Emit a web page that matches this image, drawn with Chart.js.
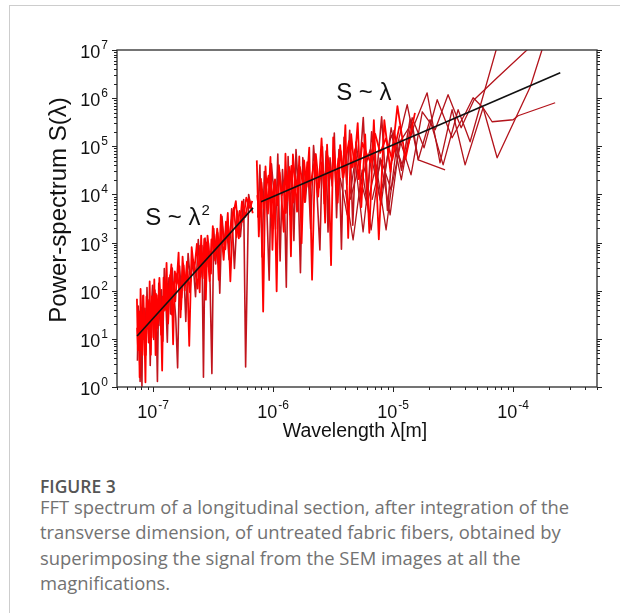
<!DOCTYPE html>
<html>
<head>
<meta charset="utf-8">
<title>FFT spectrum</title>
<script src="https://cdn.jsdelivr.net/npm/chart.js@4.4.1/dist/chart.umd.min.js"></script>
<style>
  html, body { margin: 0; padding: 0; background: #fff; }
  body { width: 620px; height: 613px; position: relative; overflow: hidden; }
  .card { position: absolute; left: 9px; top: 5px; width: 700px; height: 700px;
          border-left: 1px solid #cdcdcd; border-top: 1px solid #cdcdcd; }
  #spectrum { position: absolute; left: 0; top: 0; }
  .fig { position: absolute; left: 40px; top: 474px; font: 600 17.5px "Open Sans", sans-serif; color: #555; }
  .txt { position: absolute; left: 40px; top: 494px; font: 18.4px/25.4px "Open Sans", sans-serif;
         color: #727272; white-space: nowrap; }
</style>
</head>
<body>
<div class="card"></div>
<canvas id="spectrum" width="620" height="460"></canvas>
<div class="fig">FIGURE 3</div>
<div class="txt">FFT spectrum of a longitudinal section, after integration of the<br>transverse dimension, of untreated fabric fibers, obtained by<br>superimposing the signal from the SEM images at all the<br>magnifications.</div>
<script>
// wavelengths in micrometres, power in arbitrary units

// highest magnification, three overlapping scans
const lamA1 = [0.0733, 0.0746, 0.0759, 0.0772, 0.0786, 0.0800, 0.0815, 0.0830, 0.0846, 0.0863,
  0.0880, 0.0898, 0.0917, 0.0936, 0.0957, 0.0978, 0.1000, 0.1023, 0.1048, 0.1073,
  0.1100, 0.1128, 0.1158, 0.1189, 0.1222, 0.1257, 0.1294, 0.1333, 0.1375, 0.1419,
  0.1467, 0.1517, 0.1571, 0.1630, 0.1692, 0.1760, 0.1833, 0.1913, 0.2000, 0.2095,
  0.2200, 0.2316, 0.2444, 0.2514, 0.2588, 0.2667, 0.2750, 0.2839, 0.2933, 0.3034,
  0.3143, 0.3259, 0.3385, 0.3520, 0.3667, 0.3826, 0.4000, 0.4190, 0.4400, 0.4630,
  0.4890, 0.5180, 0.5500, 0.5870, 0.6290, 0.6770];
const powA1 = [68, 5.9, 37, 1.6, 109, 22, 4.6, 80, 15, 1.25,
  75, 40, 8.4, 156, 4.7, 76, 27, 171, 4.6, 81,
  21, 185, 48, 2.2, 186, 40, 380, 21, 129, 350,
  7.7, 252, 140, 620, 28, 510, 100, 400, 7.2, 800,
  256, 940, 93, 1400, 181, 1185, 65, 1400, 620, 226,
  2200, 616, 1500, 169, 3780, 1590, 726, 4110, 157, 3600,
  7280, 1220, 7175, 3420, 8260, 4080];

const lamA2 = [0.0740, 0.0752, 0.0765, 0.0779, 0.0793, 0.0807, 0.0822, 0.0838, 0.0854, 0.0871,
  0.0889, 0.0907, 0.0926, 0.0946, 0.0967, 0.0989, 0.1011, 0.1035, 0.1060, 0.1086,
  0.1114, 0.1143, 0.1173, 0.1205, 0.1239, 0.1275, 0.1313, 0.1354, 0.1397, 0.1443,
  0.1492, 0.1544, 0.1600, 0.1661, 0.1726, 0.1796, 0.1872, 0.1956, 0.2047, 0.2146,
  0.2256, 0.2378, 0.2479, 0.2550, 0.2627, 0.2708, 0.2794, 0.2886, 0.2983, 0.3088,
  0.3200, 0.3321, 0.3452, 0.3593, 0.3746, 0.3912, 0.4093, 0.4293, 0.4513, 0.4759,
  0.5033, 0.5339, 0.5683, 0.5900, 0.6250, 0.6600];
const powA2 = [3.5, 48, 11.4, 1.3, 42, 1.0, 78, 9.8, 43, 4.6,
  116, 16, 65, 2.8, 49, 130, 9.7, 103, 31, 1.3,
  143, 19, 104, 8.9, 290, 68, 8.5, 185, 33, 294,
  80, 27, 2.5, 324, 72, 338, 23, 595, 154, 438,
  75, 1156, 193, 870, 1.6, 1236, 315, 984, 135, 1.9,
  1956, 361, 1600, 89, 3500, 904, 2570, 440, 5040, 290,
  4500, 1320, 7800, 2.6, 10000, 4700];

const lamA3 = [0.0736, 0.0749, 0.0762, 0.0775, 0.0789, 0.0803, 0.0818, 0.0834, 0.0850, 0.0867,
  0.0884, 0.0902, 0.0921, 0.0941, 0.0962, 0.0983, 0.1005, 0.1029, 0.1054, 0.1080,
  0.1107, 0.1135, 0.1165, 0.1197, 0.1230, 0.1266, 0.1303, 0.1343, 0.1386, 0.1431,
  0.1479, 0.1530, 0.1585, 0.1645, 0.1709, 0.1778, 0.1852, 0.1934, 0.2023, 0.2120,
  0.2228, 0.2347, 0.2462, 0.2532, 0.2607, 0.2687, 0.2772, 0.2862, 0.2958, 0.3061,
  0.3171, 0.3290, 0.3418, 0.3556, 0.3706, 0.3869, 0.4046, 0.4241, 0.4456, 0.4694,
  0.4960, 0.5258, 0.5595, 0.5980, 0.6420, 0.6700];
const powA3 = [17, 6, 31, 10.5, 41, 5.8, 28, 11.3, 38, 5.4,
  23, 60, 12.8, 36, 22, 64, 10.8, 41, 87, 16.6,
  35, 76, 12.2, 75, 38, 133, 33, 78, 211, 32,
  149, 60, 230, 117, 41, 367, 132, 249, 93, 466,
  288, 111, 859, 275, 595, 203, 1012, 481, 158, 1158,
  828, 422, 1950, 781, 1649, 436, 2728, 987, 2430, 5236,
  1296, 4554, 2700, 8616, 5232, 7350];

// medium magnification
const lamB1 = [0.731, 0.760, 0.792, 0.826, 0.864, 0.905, 0.950, 0.987, 1.027, 1.070,
  1.118, 1.169, 1.226, 1.267, 1.310, 1.357, 1.407, 1.462, 1.520, 1.583,
  1.652, 1.727, 1.810, 1.900, 2.000, 2.111, 2.235, 2.375, 2.533, 2.621,
  2.714, 2.815, 2.923, 3.040, 3.167, 3.304, 3.455, 3.619, 3.800, 4.000,
  4.222, 4.471, 4.750, 5.067, 5.429, 5.846, 6.333, 6.909, 7.600, 8.444,
  9.500, 10.86, 12.67, 15.20];
const powB1 = [51000, 1340, 21000, 37, 38000, 4000, 60000, 710, 18500, 97,
  40400, 10600, 1680, 70000, 7200, 37500, 520, 67500, 21000, 4400,
  61600, 970, 51000, 14300, 94000, 170, 53000, 9000, 145000, 25000,
  2600, 108000, 14000, 340, 153000, 38500, 6700, 106000, 22400, 276000,
  1250, 178000, 38000, 304000, 5450, 177000, 1600, 350000, 1170, 348000,
  29500, 684000, 54000, 495000];

const lamB2 = [0.745, 0.776, 0.809, 0.845, 0.884, 0.927, 0.968, 1.007, 1.048, 1.094,
  1.143, 1.197, 1.246, 1.288, 1.333, 1.382, 1.434, 1.490, 1.551, 1.617,
  1.689, 1.768, 1.855, 1.950, 2.055, 2.172, 2.304, 2.453, 2.577, 2.667,
  2.764, 2.868, 2.980, 3.103, 3.235, 3.379, 3.536, 3.709, 3.900, 4.111,
  4.346, 4.610, 4.908, 5.248, 5.638, 6.090, 6.621, 7.255, 8.022, 8.972,
  10.18, 11.76, 13.90];
const powB2 = [3300, 41000, 500, 30000, 6300, 165, 43400, 13600, 1900, 69000,
  414, 32700, 6840, 118, 61000, 3800, 33000, 1100, 86000, 15000,
  237, 58000, 7000, 36800, 1940, 103000, 15300, 700, 98000, 6400,
  79500, 1650, 57600, 15000, 188000, 3300, 86000, 730, 154000, 16000,
  215000, 2300, 122000, 31600, 397000, 6150, 201000, 22000, 410000, 4650,
  212000, 31800, 375000];

const lamB3 = [0.738, 0.768, 0.800, 0.835, 0.874, 0.916, 0.959, 0.997, 1.037, 1.082,
  1.130, 1.183, 1.236, 1.277, 1.321, 1.369, 1.420, 1.476, 1.535, 1.600,
  1.670, 1.747, 1.832, 1.925, 2.027, 2.141, 2.269, 2.414, 2.555, 2.644,
  2.739, 2.841, 2.951, 3.071, 3.200, 3.341, 3.495, 3.664, 3.850, 4.055,
  4.284, 4.540, 4.829, 5.157, 5.533, 5.968, 6.477, 7.082, 7.811, 8.708,
  9.840, 11.31];
const powB3 = [9700, 3400, 17700, 5200, 14000, 24500, 3400, 11600, 20500, 5900,
  28700, 9700, 18100, 4100, 24200, 13900, 39300, 6800, 24200, 11900,
  37400, 19700, 6900, 47100, 13400, 30500, 69100, 13800, 46200, 25300,
  11800, 62800, 37000, 20800, 83700, 16300, 54600, 79000, 22700, 56000,
  127500, 36200, 86900, 20800, 117600, 72700, 46300, 182000, 72900, 145600,
  52000, 266000];

// low magnifications, few points each
const lamD1 = [3.62, 4.14, 4.82, 5.62, 6.68, 7.94, 9.62, 11.7, 14.4, 18.1, 23.3, 31.0, 40.6, 46.4, 56.2, 73.6, 139, 203];
const powD1 = [22100, 3770, 52400, 1670, 84600, 6080, 243000, 20100, 392000, 93000, 927000, 150000, 521000, 1020000, 631000, 57700, 1730000, 33600000];

const lamD2 = [3.98, 4.64, 5.52, 6.56, 7.79, 9.44, 11.4, 14.1, 17.5, 22.4, 28.7, 36.9, 47.3, 73.6, 131, 196];
const powD2 = [12500, 1140, 32400, 1840, 57700, 3770, 136000, 25500, 521000, 220000, 1180000, 243000, 927000, 2650000, 10100000, 26400000];

const lamD3 = [4.38, 5.11, 6.07, 7.21, 8.74, 10.6, 13.1, 16.2, 20.3, 26.1, 34.8, 43.8, 78.0];
const powD3 = [7720, 32400, 6080, 41200, 1840, 84600, 729000, 52400, 356000, 41200, 574000, 124000, 19800000];

const lamD4 = [5.31, 6.43, 7.79, 9.62, 11.9, 15.0, 19.2, 24.6, 31.0, 39.8, 56.2, 66.8, 100, 110, 224];
const powD4 = [15800, 84600, 7720, 173000, 41200, 280000, 1290000, 45400, 574000, 41200, 631000, 323000, 356000, 431000, 802000];

const lamD5 = [6.68, 7.94, 9.62, 11.7, 14.4, 16.2, 27.1];
const powD5 = [7720, 52400, 12500, 136000, 308000, 52400, 32400];

// power-law guides
const lamFitLow = [0.0736, 0.68];
const powFitLow = [11.5, 5260];
const lamFitHigh = [0.794, 247];
const powFitHigh = [7020, 3370000];

const UM = 1e-6;
const FONT = '"Liberation Sans", Arial, Helvetica, sans-serif';

function pts(lam, pow) {
  return lam.map((l, i) => ({ x: l * UM, y: pow[i] }));
}

function trace(lam, pow, color, width, order) {
  return {
    data: pts(lam, pow),
    borderColor: color,
    borderWidth: width,
    borderJoinStyle: 'round',
    pointRadius: 0,
    tension: 0,
    fill: false,
    order: order
  };
}

// text labels placed in data units
const notes = [
  { text: 'S ~ \u03bb', sup: '2', lam: 0.0858, pow: 2335 },
  { text: 'S ~ \u03bb', sup: '', lam: 3.35, pow: 930000 }
];

function powerLabel(ctx, e, x, y, align) {
  ctx.font = '18px ' + FONT;
  const base = '10';
  const wb = ctx.measureText(base).width;
  ctx.font = '12px ' + FONT;
  const sup = String(e);
  const ws = ctx.measureText(sup).width;
  let start;
  if (align === 'right') start = x - wb - ws - 1;
  else start = x - (wb + ws + 1) / 2;
  ctx.font = '18px ' + FONT;
  ctx.fillText(base, start, y);
  ctx.font = '12px ' + FONT;
  ctx.fillText(sup, start + wb + 1, y - 9);
}

const frame = {
  id: 'frame',
  afterDatasetsDraw(chart) {
    const { ctx, chartArea: a, scales } = chart;
    const xs = scales.x, ys = scales.y;
    ctx.save();
    ctx.fillStyle = '#111';
    ctx.textBaseline = 'alphabetic';
    ctx.textAlign = 'left';

    // annotations
    notes.forEach(n => {
      const px = xs.getPixelForValue(n.lam * UM);
      const py = ys.getPixelForValue(n.pow);
      ctx.font = '24px ' + FONT;
      ctx.fillText(n.text, px, py);
      if (n.sup) {
        const w = ctx.measureText(n.text).width;
        ctx.font = '15px ' + FONT;
        ctx.fillText(n.sup, px + w + 1, py - 10);
      }
    });

    // box
    ctx.strokeStyle = '#3a3a3a';
    ctx.lineWidth = 1.4;
    ctx.strokeRect(a.left, a.top, a.right - a.left, a.bottom - a.top);

    // ticks
    ctx.lineWidth = 1;
    ctx.strokeStyle = '#222';
    ctx.beginPath();
    for (let e = -8; e <= -4; e++) {
      for (let m = 1; m < 10; m++) {
        const v = m * Math.pow(10, e);
        if (v < xs.min * 0.999 || v > xs.max * 1.001) continue;
        const px = Math.round(xs.getPixelForValue(v)) + 0.5;
        const len = m === 1 ? 5 : 3;
        ctx.moveTo(px, a.bottom);
        ctx.lineTo(px, a.bottom + len);
      }
    }
    for (let e = 0; e <= 7; e++) {
      for (let m = 1; m < 10; m++) {
        const v = m * Math.pow(10, e);
        if (v > ys.max * 1.001) continue;
        const py = Math.round(ys.getPixelForValue(v)) + 0.5;
        const len = m === 1 ? 5 : 3;
        ctx.moveTo(a.left, py);
        ctx.lineTo(a.left - len, py);
        ctx.moveTo(a.right, py);
        ctx.lineTo(a.right + len, py);
      }
    }
    ctx.stroke();

    // tick labels
    ctx.fillStyle = '#111';
    for (let e = -7; e <= -4; e++) {
      powerLabel(ctx, e, xs.getPixelForValue(Math.pow(10, e)), 418, 'center');
    }
    for (let e = 0; e <= 7; e++) {
      powerLabel(ctx, e, 108, ys.getPixelForValue(Math.pow(10, e)) + 8, 'right');
    }

    // axis titles
    ctx.font = '19.5px ' + FONT;
    ctx.textAlign = 'center';
    ctx.fillText('Wavelength \u03bb[m]', (a.left + a.right) / 2 - 2, 437);
    ctx.save();
    ctx.translate(66, 210);
    ctx.rotate(-Math.PI / 2);
    ctx.font = '24px ' + FONT;
    ctx.fillText('Power-spectrum S(\u03bb)', 0, 0);
    ctx.restore();
    ctx.restore();
  }
};

const bright = '#ff0000';
const dark = '#c2141c';
const sparse = '#b3131b';
const guide = '#111111';

new Chart(document.getElementById('spectrum'), {
  type: 'line',
  data: {
    datasets: [
      trace(lamFitLow, powFitLow, guide, 1.6, 0),
      trace(lamFitHigh, powFitHigh, guide, 1.6, 0),
      trace(lamA1, powA1, bright, 1.8, 1),
      trace(lamA3, powA3, bright, 1.8, 1),
      trace(lamB1, powB1, bright, 1.8, 1),
      trace(lamB3, powB3, bright, 1.8, 1),
      trace(lamA2, powA2, dark, 1.6, 2),
      trace(lamB2, powB2, dark, 1.6, 2),
      trace(lamD1, powD1, sparse, 1.3, 3),
      trace(lamD2, powD2, sparse, 1.3, 3),
      trace(lamD3, powD3, sparse, 1.3, 3),
      trace(lamD4, powD4, sparse, 1.3, 3),
      trace(lamD5, powD5, sparse, 1.3, 3)
    ]
  },
  options: {
    responsive: false,
    animation: false,
    devicePixelRatio: 1,
    layout: { padding: { left: 117, top: 50, right: 23, bottom: 73 } },
    scales: {
      x: { type: 'logarithmic', min: 5e-8, max: 5e-4, display: false },
      y: { type: 'logarithmic', min: 1, max: 1e7, display: false }
    },
    plugins: {
      legend: { display: false },
      tooltip: { enabled: false }
    }
  },
  plugins: [frame]
});
</script>
</body>
</html>
